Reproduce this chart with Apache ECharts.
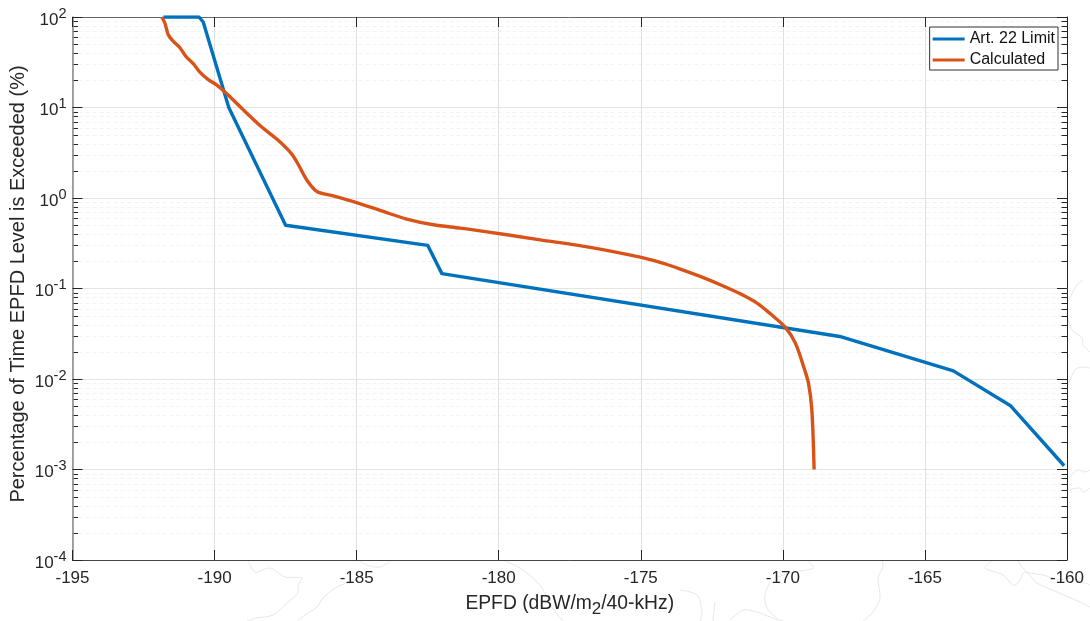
<!DOCTYPE html>
<html><head><meta charset="utf-8">
<style>html,body{margin:0;padding:0;background:#fff}#c{width:1090px;height:621px}</style>
<script src="https://cdn.jsdelivr.net/npm/echarts@6/dist/echarts.min.js"></script>
</head><body><div id="c"></div>
<script>
const xTicks = [-195,-190,-185,-180,-175,-170,-165,-160];
const yDecades = [0.0001,0.001,0.01,0.1,1,10];
const minorFactors = [2,3,4,5,6,7,8,9];
const limitName = 'Art. 22 Limit';
const calcName = 'Calculated';
const limitX = [-191.8,-190.55,-190.4,-189.5,-187.5,-182.5,-182,-168,-164,-162,-160.1];
const limitY = [100,100,88,10,0.5,0.3,0.146,0.0295,0.0123,0.0051,0.0011];
const calcX = [-191.86,-191.75,-191.63,-191.45,-191.24,-191.01,-190.75,-190.51,-190.22,-189.93,-189.57,-188.99,-188.34,-187.81,-187.29,-187.05,-186.76,-186.4,-185.82,-185,-184.06,-183.24,-182.3,-181.36,-180.65,-178.54,-176.78,-175.02,-174.32,-173.61,-172.91,-172.2,-171.5,-170.91,-170.44,-169.92,-169.56,-169.27,-169.1,-168.98,-168.9];
const calcY = [100,85.9,63.7,53.7,46.6,36.7,30.5,24.4,20.3,17.8,14.2,9.44,6.08,4.48,3.08,2.33,1.59,1.18,1.057,0.891,0.71,0.585,0.506,0.465,0.434,0.345,0.285,0.222,0.194,0.164,0.136,0.11,0.0873,0.0689,0.0525,0.0374,0.0249,0.0137,0.00906,0.00455,0.001];
// faint background map contours behind the figure (decoration, not data)
const contours = [
 [[248,560],[255,572],[270,568],[285,577],[302,578],[298,585],[298,593],[287,603],[273,615],[257,618],[247,621]],
 [[392,560],[380,567],[367,565],[358,560]],
 [[357,580],[337,587],[323,598],[317,607],[302,617],[298,621]],
 [[502,560],[520,568],[537,582],[545,593],[550,605],[563,621]],
 [[680,590],[697,595],[702,612],[700,621]],
 [[715,602],[713,621]],
 [[730,620],[743,610],[757,612],[770,617],[783,621]],
 [[770,582],[765,595],[767,608],[777,618]],
 [[807,560],[813,568],[793,572],[775,578]],
 [[882,560],[883,567],[878,578],[880,598],[873,612],[863,621]],
 [[993,560],[985,568],[1003,575],[1013,585],[1018,583],[1025,572],[1037,583],[1057,592],[1080,602],[1090,607]],
 [[1017,560],[1027,572],[1043,575],[1060,580],[1070,578],[1090,585]],
 [[1068,302],[1077,285],[1083,280]],
 [[1068,318],[1072,330],[1082,338],[1083,345],[1090,352]],
 [[1068,385],[1075,370],[1082,367],[1090,368]],
 [[1068,480],[1077,470],[1085,472],[1090,470]],
 [[1068,490],[1080,488],[1083,492],[1090,488]]
];

const FONT = '"Liberation Sans", Arial, sans-serif';
const INK = '#262626';
const minorValues = [];
yDecades.forEach(d => minorFactors.forEach(f => minorValues.push(d * f)));
const zip = (a, b) => a.map((v, i) => [v, b[i]]);

const chart = echarts.init(document.getElementById('c'), null, {renderer:'canvas'});
const yLabel = {
  show:true, margin:6, color:INK, fontFamily:FONT, fontSize:17,
  formatter: v => '{b|10}{s|' + Math.round(Math.log10(v)) + '}',
  rich:{ b:{fontSize:17,color:INK,fontFamily:FONT,padding:[6,0,0,0]},
         s:{fontSize:14.5,color:INK,fontFamily:FONT,padding:[0,0,7,0]} }
};
chart.setOption({
  animation:false,
  backgroundColor:'#fff',
  graphic:{elements:contours.map(p => ({type:'polyline',z:-10,silent:true,shape:{points:p,smooth:0.3},style:{stroke:'#e7e7e7',fill:null,lineWidth:1}}))},
  grid:{left:72.5,right:23,top:17,bottom:61,show:true,backgroundColor:'#fff',borderWidth:0,outerBoundsMode:'none',containLabel:false},
  legend:{
    show:true, z:20, orient:'vertical', right:32, top:27, padding:[4,3,2,3], itemGap:5,
    backgroundColor:'#fff', borderColor:'#333', borderWidth:1, borderRadius:0,
    itemWidth:32, itemHeight:3, icon:'rect', itemStyle:{borderWidth:0},
    textStyle:{color:'#111',fontFamily:FONT,fontSize:16},
    data:[limitName,calcName]
  },
  xAxis:[{
    type:'value', z:2, min:-195, max:-160, interval:5, position:'bottom',
    axisLine:{show:true,onZero:false,lineStyle:{color:'#444',width:1}},
    axisTick:{show:true,inside:true,length:10,lineStyle:{color:INK}},
    axisLabel:{color:INK,fontFamily:FONT,fontSize:17,margin:10,customValues:xTicks,formatter:v=>String(v)},
    splitLine:{show:true,lineStyle:{color:'#e0e0e0',width:1}},
    name:'{n|EPFD (dBW/m}{u|2}{n|/40-kHz)}', nameLocation:'middle', nameGap:29,
    nameTextStyle:{rich:{n:{fontSize:19.3,color:INK,fontFamily:FONT},u:{fontSize:17,color:INK,fontFamily:FONT,padding:[12,0,0,0]}}}
  },{
    type:'value', z:2, min:-195, max:-160, interval:5, position:'top',
    axisLine:{show:true,onZero:false,lineStyle:{color:'#666',width:1}},
    axisTick:{show:true,inside:true,length:10,lineStyle:{color:INK}},
    axisLabel:{show:false}, splitLine:{show:false}
  }],
  yAxis:[{
    type:'log', z:2, logBase:10, min:0.0001, max:100, position:'left',
    axisLine:{show:true,onZero:false,lineStyle:{color:'#888',width:1.5}},
    axisTick:{show:true,inside:true,length:10,lineStyle:{color:INK}},
    minorTick:{show:false}, minorSplitLine:{show:false},
    axisLabel:yLabel,
    splitLine:{show:true,lineStyle:{color:'#e4e4e4',width:1}},
    name:'Percentage of Time EPFD Level is Exceeded (%)', nameLocation:'middle', nameGap:44, nameMoveOverlap:false,
    nameTextStyle:{color:INK,fontFamily:FONT,fontSize:20,padding:[0,0,0,9]}
  },{
    type:'log', z:2, logBase:10, min:0.0001, max:100, position:'right',
    axisLine:{show:true,onZero:false,lineStyle:{color:'#222',width:1}},
    axisTick:{show:true,inside:true,length:10,lineStyle:{color:INK}},
    minorTick:{show:false}, axisLabel:{show:false}, splitLine:{show:false}
  }],
  series:[{
    type:'custom', name:'minor', coordinateSystem:'cartesian2d', silent:true, clip:false, z:1,
    data:minorValues.map(v => [-195, v]),
    renderItem:(params, api) => {
      const y = Math.round(api.coord([-195, api.value(1)])[1]) + 0.5;
      const xl = api.coord([-195, 1])[0], xr = api.coord([-160, 1])[0];
      const line = (x1, x2, stroke, dash) => ({type:'line',z2:1,shape:{x1,y1:y,x2,y2:y},style:{stroke,lineWidth:1,lineDash:dash||null}});
      return {type:'group',children:[
        line(xl+6, xr-6, '#f3f3f3', [4,3]),
        line(xl, xl+5.5, INK),
        line(xr-5.5, xr, INK)
      ]};
    }
  },{
    type:'line', name:limitName, data:zip(limitX, limitY), showSymbol:false, smooth:false, z:3,
    lineStyle:{color:'#0072BD',width:3.4,join:'round'}, itemStyle:{color:'#0072BD'}
  },{
    type:'line', name:calcName, data:zip(calcX, calcY), showSymbol:false, smooth:0.3, smoothMonotone:'none', z:4,
    lineStyle:{color:'#D95319',width:3.4,join:'round'}, itemStyle:{color:'#D95319'}
  }]
});
</script></body></html>
